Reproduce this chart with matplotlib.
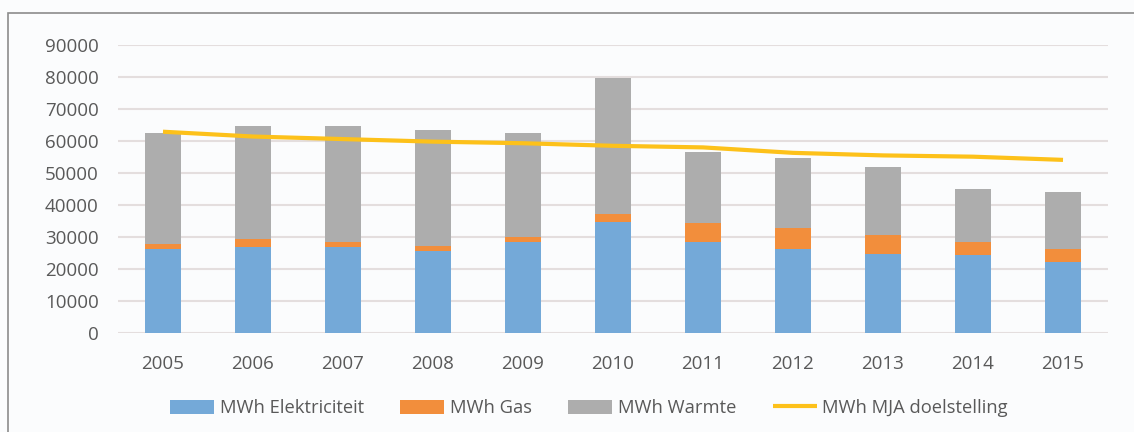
import matplotlib.pyplot as plt
from matplotlib.patches import Rectangle
import numpy as np

# Energieverbruik per jaar (MWh)
jaren = ['2005', '2006', '2007', '2008', '2009', '2010', '2011', '2012', '2013', '2014', '2015']
elektriciteit = [26200, 26900, 26900, 25500, 28300, 34800, 28400, 26300, 24700, 24300, 22100]
gas = [1600, 2400, 1600, 1700, 1700, 2300, 5900, 6400, 5900, 4100, 4150]
warmte = [34800, 35500, 36300, 36200, 32600, 42700, 22400, 22100, 21400, 16500, 17850]
mja_doel = [62900, 61400, 60600, 59800, 59300, 58500, 58000, 56300, 55500, 55100, 54100]

kleur_elek = '#74A9D8'
kleur_gas = '#F28E3C'
kleur_warmte = '#ADADAD'
kleur_mja = '#FDC11A'
tekst_kleur = '#595959'

plt.rcParams['font.family'] = ['Open Sans', 'DejaVu Sans']

fig = plt.figure(figsize=(11.34, 4.32), dpi=100)
fig.patch.set_facecolor('#FBFCFD')
ax = fig.add_axes([118 / 1134, 1 - 333 / 432, 990 / 1134, 288 / 432])
ax.set_facecolor('#FBFCFD')

x = np.arange(len(jaren))
w = 0.41
onder_gas = np.array(elektriciteit)
onder_warmte = onder_gas + np.array(gas)

b1 = ax.bar(x, elektriciteit, w, color=kleur_elek, label='MWh Elektriciteit', zorder=2)
b2 = ax.bar(x, gas, w, bottom=onder_gas, color=kleur_gas, label='MWh Gas', zorder=2)
b3 = ax.bar(x, warmte, w, bottom=onder_warmte, color=kleur_warmte, label='MWh Warmte', zorder=2)
l1, = ax.plot(x, mja_doel, color=kleur_mja, lw=3, label='MWh MJA doelstelling', zorder=3,
              solid_capstyle='butt')

ax.set_xlim(-0.5, len(jaren) - 0.5)
ax.set_ylim(0, 90000)
ax.set_yticks(range(0, 90001, 10000))
ax.set_xticks(x)
ax.set_xticklabels(jaren)
ax.grid(axis='y', color='#E4DEDE', lw=1.5, zorder=0)
for s in ax.spines.values():
    s.set_visible(False)
ax.tick_params(axis='both', length=0, labelsize=13.5, labelcolor=tekst_kleur)
ax.tick_params(axis='x', pad=16)
ax.tick_params(axis='y', pad=14)

fig.legend(handles=[b1, b2, b3, l1], loc='center', bbox_to_anchor=(589 / 1134, 24 / 432),
           ncol=4, frameon=False, fontsize=13.2, labelcolor=tekst_kleur,
           handlelength=2.4, handleheight=0.8, columnspacing=2.0, handletextpad=0.3)

# grijze rand links en boven
fig.patches.append(Rectangle((8 / 1134, -0.1), 1.2, 0.1 + (432 - 13) / 432,
                             transform=fig.transFigure, fill=False,
                             edgecolor='#8C8C8C', lw=1.2))

fig.savefig('out.png', dpi=100, facecolor=fig.get_facecolor())
